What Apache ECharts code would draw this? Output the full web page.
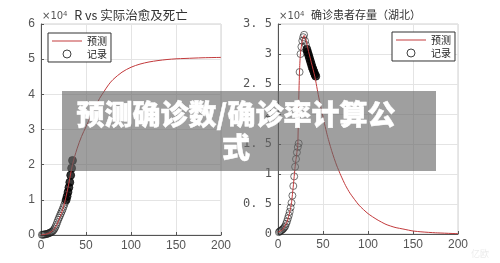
<!DOCTYPE html>
<html>
<head>
<meta charset="utf-8">
<script src="https://cdn.jsdelivr.net/npm/echarts@6/dist/echarts.min.js"></script>
<style>
  html, body { margin: 0; padding: 0; background: #fff; }
  #main { width: 500px; height: 263px; }
</style>
</head>
<body>
<div id="main"></div>
<script>
// left: R vs recovered + deaths (x10^4)
var predDaysL = [0, 5, 10, 15, 20, 25, 30, 35, 40, 45, 50, 55, 60, 65, 70, 75, 80, 90, 100, 110, 120, 130, 140, 150, 160, 180, 200];
var predValsL = [0, 0.02, 0.07, 0.18, 0.44, 0.8, 1.35, 2.0, 2.45, 2.8, 3.08, 3.36, 3.63, 3.88, 4.08, 4.27, 4.42, 4.63, 4.77, 4.86, 4.92, 4.96, 4.99, 5.01, 5.02, 5.04, 5.05];
var recDaysL = [1, 2, 3, 4, 5, 6, 7, 8, 9, 10, 11, 12, 13, 14, 15, 16, 17, 18, 19, 20, 21, 22, 23, 24, 25, 26, 27];
var recValsL = [0.005, 0.008, 0.012, 0.016, 0.021, 0.027, 0.034, 0.042, 0.052, 0.064, 0.078, 0.093, 0.11, 0.14, 0.18, 0.23, 0.29, 0.36, 0.43, 0.49, 0.55, 0.61, 0.67, 0.73, 0.8, 0.87, 0.94];
var recDaysL2 = [28, 29, 30, 31, 32, 33, 34, 35];
var recValsL2 = [1.0, 1.1, 1.22, 1.35, 1.5, 1.7, 1.9, 2.12];

// right: confirmed patients still in care, Hubei (x10^4)
var predDaysR = [0, 5, 10, 13, 15, 17, 19, 21, 22, 23, 24, 25, 27, 29, 31, 34, 37, 41, 45, 50, 55, 60, 65, 70, 75, 80, 90, 100, 110, 120, 130, 140, 150, 160, 175, 200];
var predValsR = [0.03, 0.07, 0.2, 0.36, 0.52, 0.8, 1.12, 1.36, 1.48, 2.2, 2.75, 3.02, 3.22, 3.31, 3.24, 3.04, 2.86, 2.62, 2.3, 1.95, 1.63, 1.37, 1.15, 0.97, 0.81, 0.68, 0.48, 0.34, 0.24, 0.16, 0.11, 0.08, 0.05, 0.035, 0.02, 0.005];
var recDaysR = [1, 2, 3, 4, 5, 6, 7, 8, 9, 10, 11, 12, 13, 14, 15, 16, 17, 18, 19, 20, 21, 22, 23, 24, 25, 26, 27, 28, 29, 30, 31];
var recValsR = [0.03, 0.045, 0.055, 0.065, 0.075, 0.09, 0.11, 0.13, 0.17, 0.21, 0.26, 0.31, 0.37, 0.44, 0.52, 0.64, 0.8, 0.96, 1.12, 1.25, 1.36, 1.45, 1.51, 2.7, 3.0, 3.12, 3.22, 3.28, 3.32, 3.22, 3.15];
var recDaysR2 = [32, 33, 34, 35, 36, 37, 38, 39, 40, 41, 42];
var recValsR2 = [3.08, 3.03, 2.98, 2.93, 2.88, 2.83, 2.78, 2.74, 2.7, 2.66, 2.63];

var xTicks = [0, 50, 100, 150, 200];
var yTicksL = [0, 1, 2, 3, 4, 5, 6];
var yTicksR = [0, 0.5, 1, 1.5, 2, 2.5, 3, 3.5];

var lineColor = "#c23a3c";

function pairs(xs, ys) {
  return xs.map(function(x, i) { return [x, ys[i]]; });
}

function xAxisFor(grid) {
  return {
    type: "value",
    gridIndex: grid,
    min: xTicks[0],
    max: xTicks[xTicks.length - 1],
    interval: 50,
    axisLine: { lineStyle: { color: "#555", width: 1 } },
    axisTick: { inside: true, length: 3, lineStyle: { color: "#555" } },
    axisLabel: { color: "#555", fontSize: 12, margin: 5, fontFamily: "Liberation Sans" },
    splitLine: { show: true, lineStyle: { color: "#e4e4e4", width: 1 } }
  };
}

function yAxisFor(grid, ticks, interval, fmt, font) {
  return {
    type: "value",
    gridIndex: grid,
    min: ticks[0],
    max: ticks[ticks.length - 1],
    interval: interval,
    axisLine: { show: true, lineStyle: { color: "#555", width: 1 } },
    axisTick: { show: true, inside: true, length: 3, lineStyle: { color: "#555" } },
    axisLabel: { color: "#555", fontSize: 12, margin: 6, formatter: fmt, fontFamily: font },
    splitLine: { show: true, lineStyle: { color: "#e4e4e4", width: 1 } }
  };
}

function legendAt(left, top) {
  return {
    orient: "vertical",
    left: left,
    top: top,
    padding: [3, 4, 3, 4],
    itemGap: 3,
    itemWidth: 30,
    itemHeight: 8,
    borderColor: "#333",
    borderWidth: 1,
    borderRadius: 0,
    backgroundColor: "#fff",
    textStyle: { fontSize: 10, color: "#222", fontFamily: "Noto Sans CJK SC" },
    data: [
      { name: "预测", icon: "path://M0,0H30V1H0Z", itemStyle: { color: lineColor, borderWidth: 0 } },
      { name: "记录", icon: "circle", itemStyle: { color: "transparent", borderColor: "#111", borderWidth: 1 } }
    ],
    z: 10
  };
}

var chart = echarts.init(document.getElementById("main"), null, { renderer: "canvas" });

var option = {
  animation: false,
  backgroundColor: "#fff",
  grid: [
    { left: 41, right: 279, top: 24, bottom: 28, show: true, borderColor: "#d0d0d0", borderWidth: 1 },
    { left: 278, right: 42, top: 24, bottom: 29, show: true, borderColor: "#d0d0d0", borderWidth: 1 }
  ],
  xAxis: [xAxisFor(0), xAxisFor(1)],
  yAxis: [
    yAxisFor(0, yTicksL, 1, null, "Liberation Sans"),
    yAxisFor(1, yTicksR, 0.5, function(v) { return String(v).replace(".", ". "); }, "DejaVu Sans Mono")
  ],
  legend: [legendAt(48, 33), legendAt(392, 32)],
  series: [
    {
      name: "预测", type: "line", xAxisIndex: 0, yAxisIndex: 0,
      data: pairs(predDaysL, predValsL), symbol: "none", smooth: 0.3,
      lineStyle: { color: lineColor, width: 1 }, itemStyle: { color: lineColor }
    },
    {
      name: "记录", type: "scatter", xAxisIndex: 0, yAxisIndex: 0,
      data: pairs(recDaysL, recValsL), symbol: "circle", symbolSize: 7,
      itemStyle: { color: "transparent", borderColor: "#222", borderWidth: 0.8 }
    },
    {
      name: "记录", type: "scatter", xAxisIndex: 0, yAxisIndex: 0,
      data: pairs(recDaysL2, recValsL2), symbol: "circle", symbolSize: 8,
      itemStyle: { color: "#000", borderColor: "#000", borderWidth: 0.8 }
    },
    {
      name: "预测", type: "line", xAxisIndex: 1, yAxisIndex: 1,
      data: pairs(predDaysR, predValsR), symbol: "none", smooth: 0.2,
      lineStyle: { color: lineColor, width: 1 }, itemStyle: { color: lineColor }
    },
    {
      name: "记录", type: "scatter", xAxisIndex: 1, yAxisIndex: 1,
      data: pairs(recDaysR, recValsR), symbol: "circle", symbolSize: 7,
      itemStyle: { color: "transparent", borderColor: "#222", borderWidth: 0.8 }
    },
    {
      name: "记录", type: "scatter", xAxisIndex: 1, yAxisIndex: 1,
      data: pairs(recDaysR2, recValsR2), symbol: "circle", symbolSize: 8,
      itemStyle: { color: "#000", borderColor: "#000", borderWidth: 0.8 }
    }
  ],
  graphic: [
    {
      type: "text", x: 131, y: 15, z: 20,
      style: { text: "R vs 实际治愈及死亡", fill: "#333", font: "12.5px 'Noto Sans CJK SC'", textAlign: "center", textVerticalAlign: "middle" }
    },
    {
      type: "text", x: 366, y: 15, z: 20,
      style: { text: "确诊患者存量（湖北）", fill: "#333", font: "11px 'Noto Sans CJK SC'", textAlign: "center", textVerticalAlign: "middle" }
    },
    {
      type: "text", x: 42, y: 11, z: 20,
      style: {
        text: "{a|×10}{b|4}",
        rich: {
          a: { fontSize: 10, fill: "#555", fontFamily: "DejaVu Sans", verticalAlign: "bottom" },
          b: { fontSize: 7, fill: "#555", fontFamily: "DejaVu Sans", verticalAlign: "top" }
        }
      }
    },
    {
      type: "text", x: 279, y: 11, z: 20,
      style: {
        text: "{a|×10}{b|4}",
        rich: {
          a: { fontSize: 10, fill: "#555", fontFamily: "DejaVu Sans", verticalAlign: "bottom" },
          b: { fontSize: 7, fill: "#555", fontFamily: "DejaVu Sans", verticalAlign: "top" }
        }
      }
    },
    {
      type: "text", x: 480, y: 254, z: 20,
      style: { text: "亿欧", fill: "#ececec", font: "9px 'Noto Sans CJK SC'", textAlign: "center", textVerticalAlign: "middle" }
    },
    {
      type: "rect", z: 50,
      shape: { x: 62, y: 91, width: 374, height: 80 },
      style: { fill: "rgba(100,100,100,0.62)" }
    },
    {
      type: "text", x: 236, y: 131, z: 51,
      style: {
        text: "预测确诊数/确诊率计算公\n式",
        fill: "#fff",
        stroke: "#fff",
        lineWidth: 0.5,
        font: "900 28px 'Noto Sans CJK SC'",
        lineHeight: 33,
        textAlign: "center",
        textVerticalAlign: "middle"
      }
    }
  ]
};

chart.setOption(option);
window.addEventListener("resize", function() {
  chart.resize();
});
</script>
</body>
</html>
